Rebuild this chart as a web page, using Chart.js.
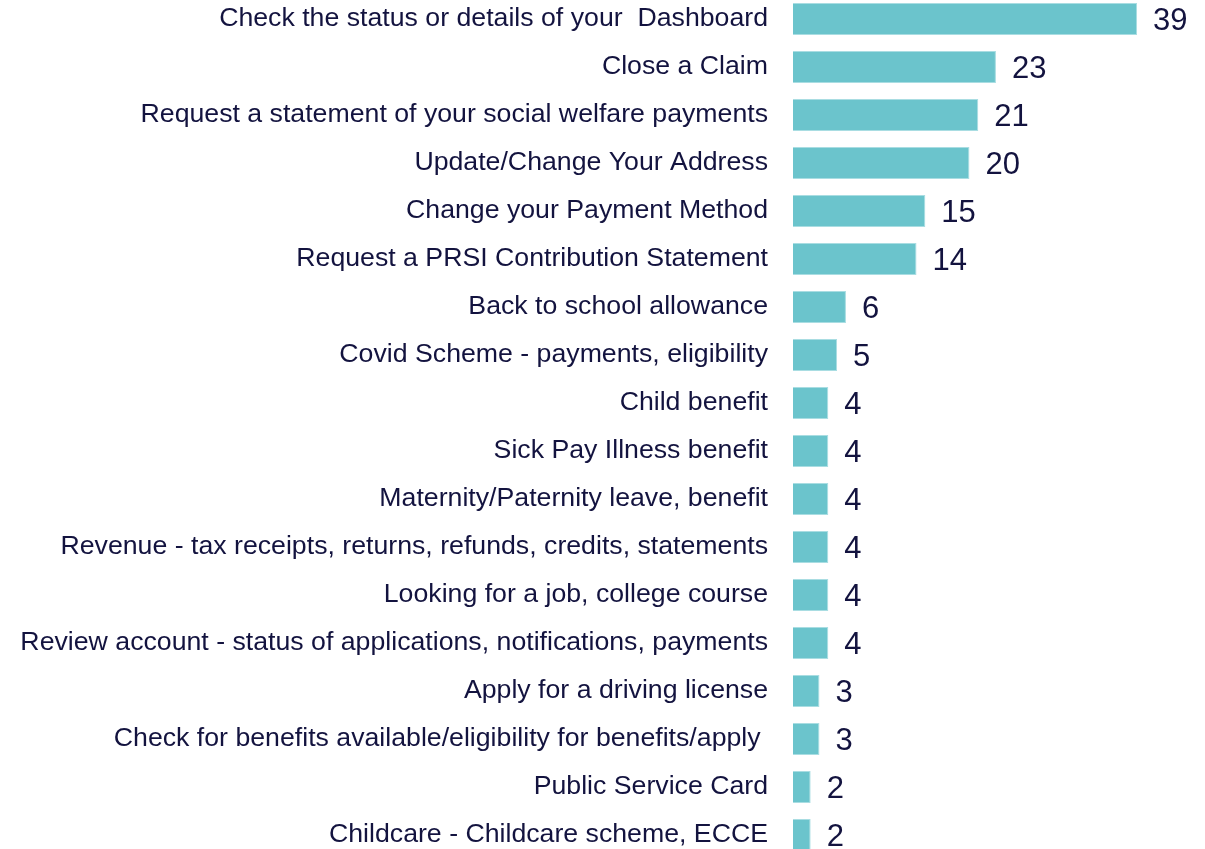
<!DOCTYPE html>
<html>
<head>
<meta charset="utf-8">
<script src="https://cdn.jsdelivr.net/npm/chart.js@4/dist/chart.umd.min.js"></script>
<style>
  html, body { margin: 0; padding: 0; background: #fff; overflow: hidden; }
  #wrap { position: absolute; left: 0; top: -5px; width: 1205px; height: 864px; }
</style>
</head>
<body>
<div id="wrap"><canvas id="chart"></canvas></div>
<script>
var categories = [
    'Check the status or details of your  Dashboard',
    'Close a Claim',
    'Request a statement of your social welfare payments',
    'Update/Change Your Address',
    'Change your Payment Method',
    'Request a PRSI Contribution Statement',
    'Back to school allowance',
    'Covid Scheme - payments, eligibility',
    'Child benefit',
    'Sick Pay Illness benefit',
    'Maternity/Paternity leave, benefit',
    'Revenue - tax receipts, returns, refunds, credits, statements',
    'Looking for a job, college course',
    'Review account - status of applications, notifications, payments',
    'Apply for a driving license',
    'Check for benefits available/eligibility for benefits/apply ',
    'Public Service Card',
    'Childcare - Childcare scheme, ECCE'
];
var counts = [39, 23, 21, 20, 15, 14, 6, 5, 4, 4, 4, 4, 4, 4, 3, 3, 2, 2];

var textColor = '#13133f';

// draw the number to the right of each bar
var valueLabels = {
    id: 'valueLabels',
    afterDatasetsDraw: function(chart) {
        var ctx = chart.ctx;
        var meta = chart.getDatasetMeta(0);
        ctx.save();
        ctx.font = '31px "Liberation Sans", Arial, sans-serif';
        ctx.fillStyle = textColor;
        ctx.textAlign = 'left';
        ctx.textBaseline = 'middle';
        meta.data.forEach(function(bar, i) {
            ctx.fillText(String(counts[i]), bar.x + 16, bar.y + 2);
        });
        ctx.restore();
    }
};

var ctx = document.getElementById('chart').getContext('2d');
var chart = new Chart(ctx, {
    type: 'bar',
    data: {
        labels: categories,
        datasets: [{
            data: counts,
            backgroundColor: '#6bc4cc',
            borderColor: '#a9dde2',
            borderWidth: 1,
            barPercentage: 0.667,
            categoryPercentage: 1
        }]
    },
    options: {
        indexAxis: 'y',
        responsive: true,
        maintainAspectRatio: false,
        animation: false,
        layout: { padding: 0 },
        plugins: {
            legend: { display: false },
            tooltip: { enabled: false }
        },
        scales: {
            x: {
                display: false,
                min: 0,
                max: 46.7
            },
            y: {
                grid: { display: false, drawTicks: false },
                border: { display: false },
                ticks: {
                    color: textColor,
                    padding: 25,
                    autoSkip: false,
                    font: { family: '"Liberation Sans", Arial, sans-serif', size: 26.7 }
                },
                afterFit: function(scale) {
                    scale.width = 793;
                    scale.paddingTop = 0;
                    scale.paddingBottom = 0;
                }
            }
        }
    },
    plugins: [valueLabels]
});
</script>
</body>
</html>
